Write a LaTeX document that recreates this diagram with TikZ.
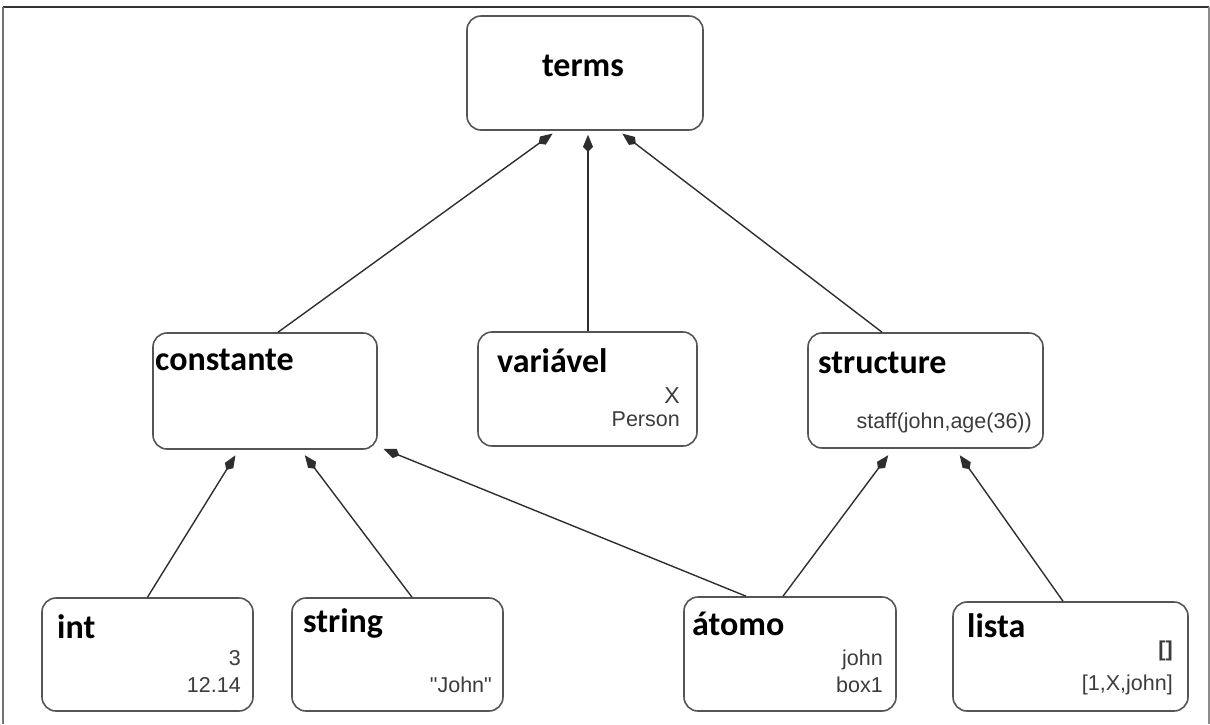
\documentclass[tikz,border=0pt]{standalone}
\usepackage{fontspec}
\newfontfamily\titlefont{Carlito}
\newfontfamily\valfont{Liberation Sans}
\usetikzlibrary{arrows.meta}
\definecolor{boxline}{HTML}{555555}
\definecolor{valtext}{HTML}{3C3C3C}
\definecolor{arrowline}{HTML}{2E2E2E}
\begin{document}
\begin{tikzpicture}[x=1pt,y=-1pt,
  box/.style={draw=boxline,line width=1.6pt,rounded corners=14pt,fill=white,inner sep=0pt},
  ttl/.style={inner sep=0pt,font=\titlefont\bfseries\fontsize{34}{40}\selectfont},
  val/.style={inner sep=0pt,anchor=base east,text=valtext,font=\valfont\fontsize{21.5}{24}\selectfont},
  arr/.style={draw=arrowline,line width=1.4pt,-{Kite[length=17pt,width=10pt,inset=5pt,fill=arrowline]},shorten >=3pt}]
\useasboundingbox (0,0) rectangle (1210,724);
% frame
\draw[line width=1.8pt,draw=black!80] (3,7) -- (1209,7);
\draw[line width=1.2pt,draw=black!55] (3,724) -- (3,7);
\draw[line width=1.2pt,draw=black!45] (1209,7) -- (1209,724);

% boxes
\node[box,minimum width=236pt,minimum height=114pt] (terms) at (585,73) {};
\node[box,minimum width=224pt,minimum height=116pt] (constante) at (265,391) {};
\node[box,minimum width=219pt,minimum height=114pt] (variavel) at (587.5,389) {};
\node[box,minimum width=235pt,minimum height=115pt] (structure) at (925.5,390.5) {};
\node[box,minimum width=211pt,minimum height=113pt] (int) at (147.5,654.5) {};
\node[box,minimum width=211pt,minimum height=113pt] (string) at (397.5,654.5) {};
\node[box,minimum width=212pt,minimum height=114pt] (atomo) at (790,654) {};
\node[box,minimum width=235pt,minimum height=109pt] (lista) at (1070.5,656.5) {};

% titles
\node[ttl,anchor=base] (tterms) at (583,76) {terms};
\node[ttl,anchor=base west] (tconst) at (155,370) {constante};
\node[ttl,anchor=base west] (tvar) at (497,372) {variável};
\node[ttl,anchor=base west] (tstruct) at (818,373) {structure};
\node[ttl,anchor=base west] (tint) at (57,638) {int};
\node[ttl,anchor=base west] (tstring) at (303,632) {string};
\node[ttl,anchor=base west] (tatomo) at (692,635) {átomo};
\node[ttl,anchor=base west] (tlista) at (967,637) {lista};

% example values
\node[val,font=\valfont\fontsize{23}{24}\selectfont] (vx) at (680,403) {X};
\node[val] (vperson) at (680,426) {Person};
\node[val] (vstaff) at (1032,428) {staff(john,age(36))};
\node[val] (vthree) at (241,665) {3};
\node[val] (vreal) at (241,692) {12.14};
\node[val] (vjohn) at (492,692) {"John"};
\node[val] (vatom) at (883,665) {john};
\node[val] (vbox) at (883,692) {box1};
\node[val,font=\valfont\bfseries\fontsize{21.5}{24}\selectfont] (vnil) at (1173,656) {[]};
\node[val] (vlist) at (1173,690) {[1,X,john]};

% hierarchy
\draw[arr] ([xshift=13pt]constante.north) -- ([xshift=-30pt,yshift=-1pt]terms.south);
\draw[arr] ([xshift=0.5pt]variavel.north) -- ([xshift=3pt,yshift=-1pt]terms.south);
\draw[arr] ([xshift=-43.5pt]structure.north) -- ([xshift=35pt,yshift=-1pt]terms.south);
\draw[arr] (int.north) -- ([xshift=-28pt,yshift=-3pt]constante.south);
\draw[arr] ([xshift=14.5pt]string.north) -- ([xshift=38pt,yshift=-3pt]constante.south);
\draw[arr] ([xshift=-44pt]atomo.north) -- ([xshift=3pt,yshift=2pt]constante.south east);
\draw[arr] ([xshift=-7pt]atomo.north) -- ([xshift=-35.5pt,yshift=-4pt]structure.south);
\draw[arr] ([xshift=-7.5pt]lista.north) -- ([xshift=32.5pt,yshift=-4pt]structure.south);
\end{tikzpicture}
\end{document}
